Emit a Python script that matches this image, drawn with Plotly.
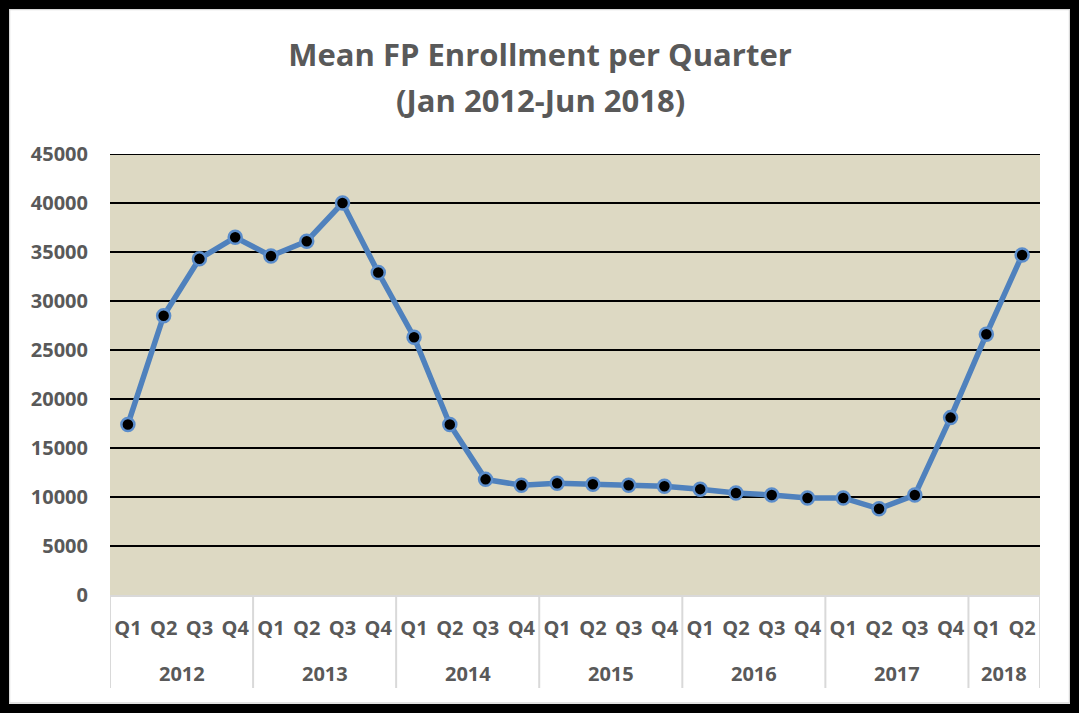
import plotly.graph_objects as go

years = ["2012"] * 4 + ["2013"] * 4 + ["2014"] * 4 + ["2015"] * 4 + ["2016"] * 4 + ["2017"] * 4 + ["2018"] * 2
quarters = ["Q1", "Q2", "Q3", "Q4"] * 6 + ["Q1", "Q2"]
enrollment = [17400, 28500, 34300, 36500,
              34600, 36100, 40000, 32900,
              26300, 17400, 11800, 11200,
              11400, 11300, 11200, 11100,
              10800, 10400, 10200, 9900,
              9900, 8800, 10200, 18100,
              26600, 34700]
y_ticks = [0, 5000, 10000, 15000, 20000, 25000, 30000, 35000, 40000, 45000]
title_lines = ["Mean FP Enrollment per Quarter", "(Jan 2012-Jun 2018)"]

W, H = 1079, 713
L, R, T, B = 110, 39, 154, 118
PW, PH = W - L - R, H - T - B


def px(x):
    return (x - L) / PW


def py(y):
    return (H - B - y) / PH


FONT = "Open Sans"
GRAY = "#595959"
DIV = "#D9D9D9"

n = len(enrollment)
xs = list(range(n))

# year groups (label, start index, end index)
groups = []
for i, yr in enumerate(years):
    if groups and groups[-1][0] == yr:
        groups[-1][2] = i
    else:
        groups.append([yr, i, i])

fig = go.Figure()
fig.add_trace(go.Scatter(
    x=xs, y=enrollment, mode="lines+markers",
    line=dict(color="#4F81BD", width=5.5),
    marker=dict(color="black", size=13, line=dict(color="#5B8DCB", width=2.5)),
    showlegend=False, hoverinfo="skip", cliponaxis=False,
))

shapes = [
    # top gridline at the range edge
    dict(type="line", xref="paper", yref="y", x0=0, x1=1, y0=y_ticks[-1], y1=y_ticks[-1],
         line=dict(color="black", width=2), layer="below"),
]
# dividers between year groups
bounds = [g[1] - 0.5 for g in groups] + [groups[-1][2] + 0.5]
for b in bounds:
    shapes.append(dict(type="line", xref="x", yref="paper", x0=b, x1=b,
                       y0=0, y1=py(688), line=dict(color=DIV, width=2)))
shapes += [
    dict(type="rect", xref="paper", yref="paper",
         x0=px(9.5), x1=px(1069.5), y0=py(703), y1=py(9.5),
         line=dict(color=DIV, width=1.5), layer="above"),
    dict(type="rect", xref="paper", yref="paper",
         x0=px(4.5), x1=px(1074.5), y0=py(708.5), y1=py(4.5),
         line=dict(color="black", width=9), layer="above"),
]

title_font = dict(family=FONT, size=31, color=GRAY, weight="bold")
annotations = [
    dict(x=px(540), y=py(100), xref="paper", yref="paper", text=title_lines[1],
         showarrow=False, xanchor="center", yanchor="middle", font=title_font),
]
for yr, a, b in groups:
    annotations.append(dict(x=(a + b) / 2, y=py(673), xref="x", yref="paper",
                            text=yr, showarrow=False, xanchor="center", yanchor="middle",
                            font=dict(family=FONT, size=20, color=GRAY, weight="bold")))

fig.update_layout(
    width=W, height=H,
    margin=dict(l=L, r=R, t=T, b=B),
    paper_bgcolor="white", plot_bgcolor="#DDD9C3",
    title=dict(text=title_lines[0],
               x=540 / W, xref="container", xanchor="center",
               y=1 - 55 / H, yref="container", yanchor="middle",
               font=title_font),
    xaxis=dict(range=[-0.5, n - 0.5], tickvals=xs, ticktext=quarters,
               showgrid=False, zeroline=False,
               showline=True, linecolor=DIV, linewidth=1.5,
               ticklabelstandoff=14,
               tickfont=dict(family=FONT, size=20, color=GRAY, weight="bold")),
    yaxis=dict(range=[0, 45000], tickvals=y_ticks, tickformat="d", showgrid=True,
               gridcolor="black", gridwidth=2, zeroline=False,
               ticklabelstandoff=21,
               tickfont=dict(family=FONT, size=20, color=GRAY, weight="bold")),
    shapes=shapes,
    annotations=annotations,
)

fig.write_html("out.html", config={"displayModeBar": False},
               post_script="document.body.style.margin='0';document.body.style.overflow='hidden';")
